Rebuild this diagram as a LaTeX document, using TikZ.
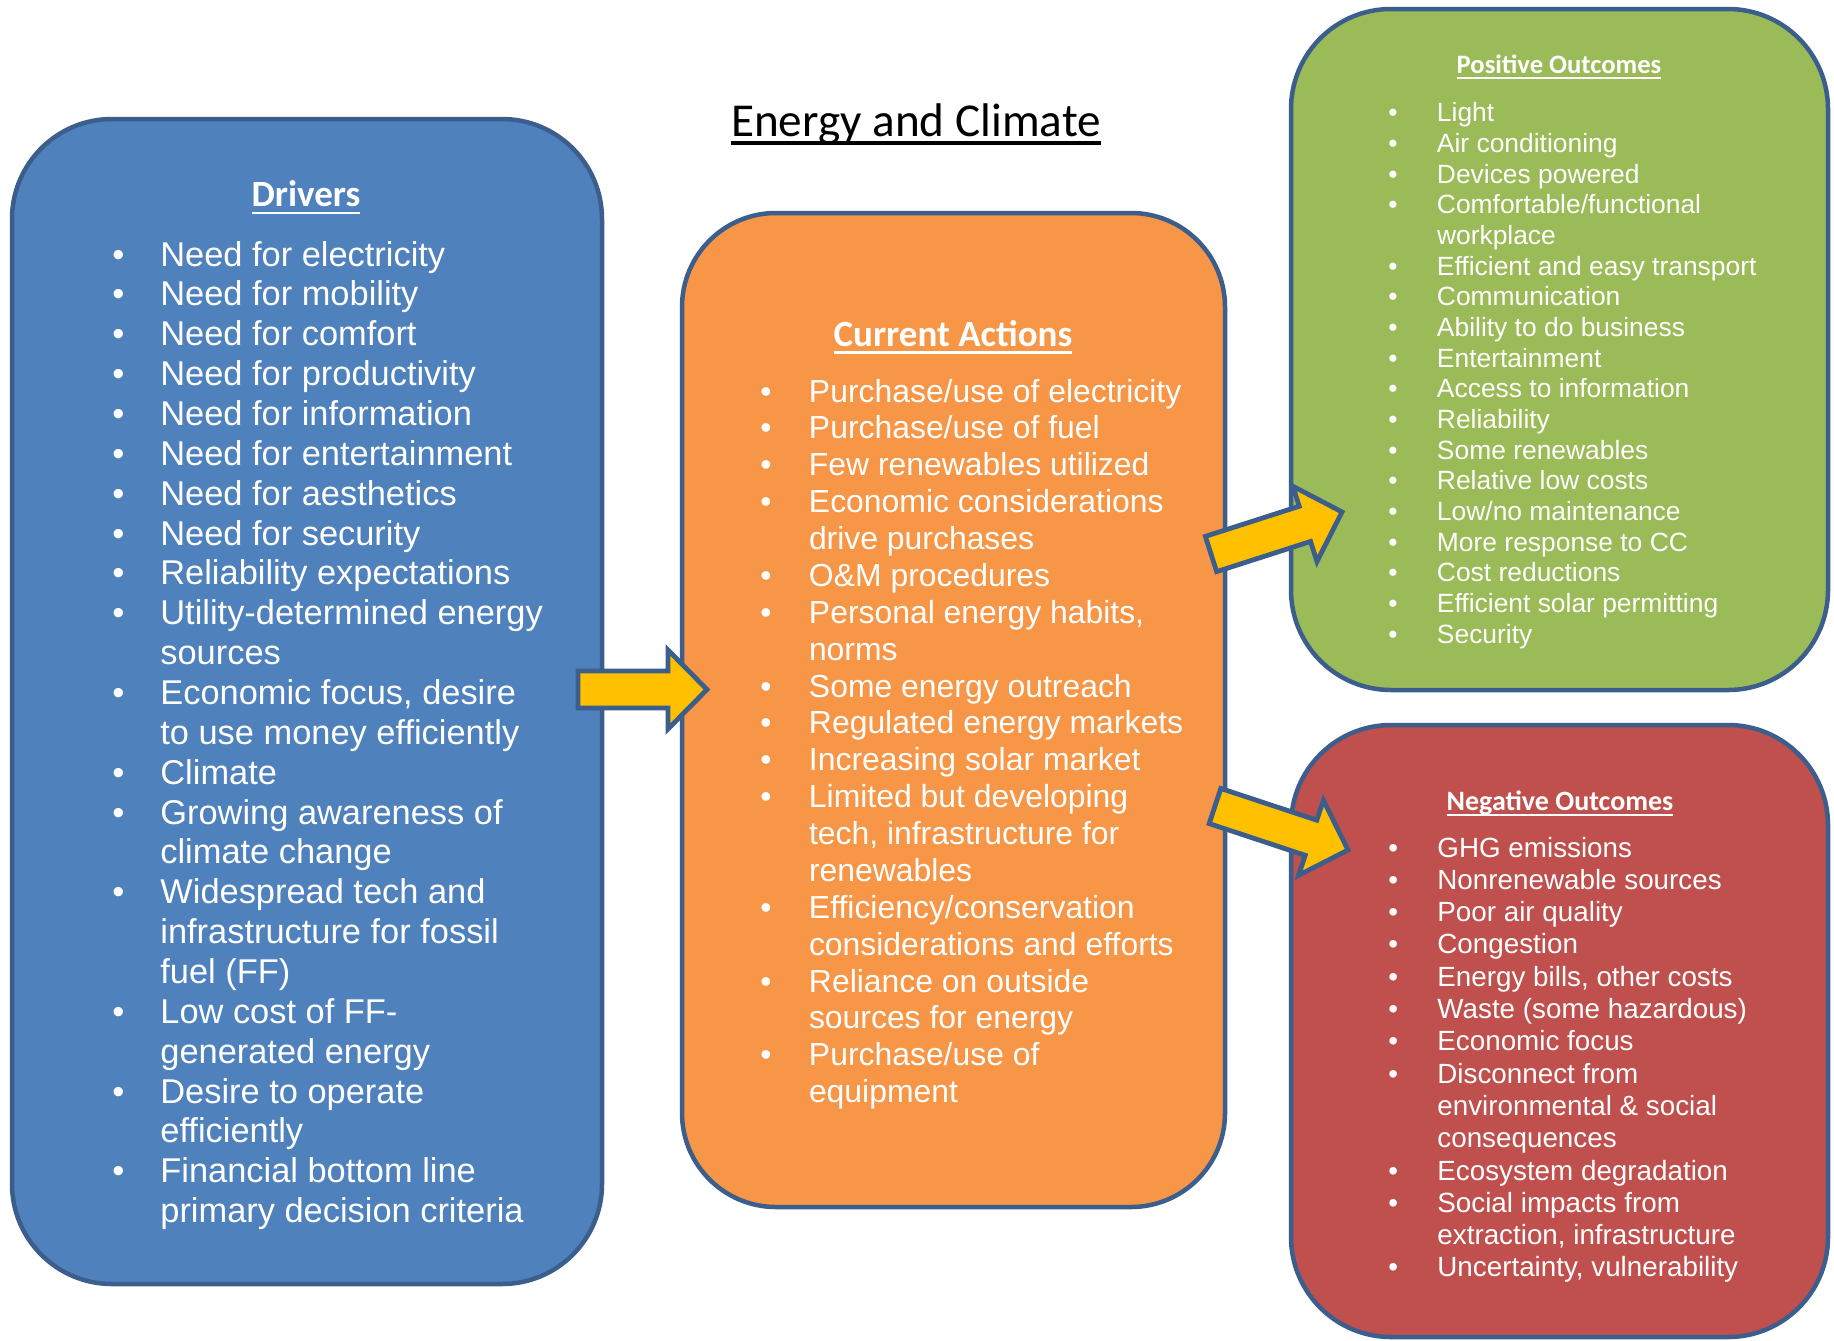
\documentclass[tikz,border=0pt]{standalone}
\usepackage{fontspec}
\setmainfont{Liberation Sans}
\newfontfamily\hdfont{Carlito}
\definecolor{edgeblue}{HTML}{3B5E8C}
\definecolor{bluefill}{HTML}{4F81BD}
\definecolor{orangefill}{HTML}{F79646}
\definecolor{greenfill}{HTML}{9BBB59}
\definecolor{redfill}{HTML}{C0504D}
\definecolor{arrowfill}{HTML}{FFC000}
\newlength\bw
\newcommand\bi{\makebox[\bw][l]{•}}
\newcommand\ci{\hspace*{\bw}}
\newcommand\ulx[3]{\setbox0\hbox{#3}\rlap{\rule[#1]{\wd0}{#2}}\box0}
\newcommand\blockarrow[1]{%
  \path[barrow] (0,-18.5) -- (#1-39,-18.5) -- (#1-39,-39.5) -- (#1,0)
    -- (#1-39,39.5) -- (#1-39,18.5) -- (0,18.5) -- cycle;}
\begin{document}
\begin{tikzpicture}[x=0.5pt,y=-0.5pt,
  box/.style={draw=edgeblue, line width=2.25pt, rounded corners=50pt, rectangle, inner sep=0pt},
  head/.style={text=white, inner sep=0pt, anchor=base},
  itemlist/.style={text=white, inner sep=0pt, anchor=base west},
  barrow/.style={fill=arrowfill, draw=edgeblue, line width=2.4pt, line join=miter}]
\useasboundingbox (0,0) rectangle (1834,1340);
\fill[white] (0,0) rectangle (1834,1340);

% boxes
\node[box, fill=bluefill, minimum width=295pt, minimum height=582.5pt] (drivers) at (307,701.5) {};
\node[box, fill=orangefill, minimum width=271.5pt, minimum height=497pt, rounded corners=47pt] (actions) at (953.5,710) {};
\node[box, fill=greenfill, minimum width=268.5pt, minimum height=340.5pt] (positive) at (1559.5,349.5) {};
\node[box, fill=redfill, minimum width=268.5pt, minimum height=306pt] (negative) at (1559.5,1031) {};

% title
\node[inner sep=0pt, anchor=base] (title) at (916,136.7)
  {\hdfont\fontsize{23.6}{28}\selectfont\ulx{-0.176em}{0.085em}{Energy and Climate}};

% headings
\node[head] (drvhead) at (306,206.7)
  {\hdfont\bfseries\fontsize{18.5}{22}\selectfont\ulx{-0.205em}{0.07em}{Drivers}};
\node[head] (acthead) at (953,346)
  {\hdfont\bfseries\fontsize{18.5}{22}\selectfont\ulx{-0.205em}{0.07em}{Current Actions}};
\node[head] (poshead) at (1559,73)
  {\hdfont\bfseries\fontsize{13.3}{16}\selectfont\ulx{-0.22em}{0.075em}{Positive Outcomes}};
\node[head] (neghead) at (1560,810)
  {\hdfont\bfseries\fontsize{14}{17}\selectfont\ulx{-0.2em}{0.075em}{Negative Outcomes}};

% lists
\node[itemlist] (drvlist) at (112,266) {\parbox[t]{400pt}{\fontsize{17.2}{19.93}\selectfont\setlength\bw{24pt}\raggedright
\bi Need for electricity\\
\bi Need for mobility\\
\bi Need for comfort\\
\bi Need for productivity\\
\bi Need for information\\
\bi Need for entertainment\\
\bi Need for aesthetics\\
\bi Need for security\\
\bi Reliability expectations\\
\bi Utility-determined energy\\
\ci sources\\
\bi Economic focus, desire\\
\ci to use money efficiently\\
\bi Climate\\
\bi Growing awareness of\\
\ci climate change\\
\bi Widespread tech and\\
\ci infrastructure for fossil\\
\ci fuel (FF)\\
\bi Low cost of FF-\\
\ci generated energy\\
\bi Desire to operate\\
\ci efficiently\\
\bi Financial bottom line\\
\ci primary decision criteria}};

\node[itemlist] (actlist) at (760,402) {\parbox[t]{400pt}{\fontsize{15.95}{18.44}\selectfont\setlength\bw{24.3pt}\raggedright
\bi Purchase/use of electricity\\
\bi Purchase/use of fuel\\
\bi Few renewables utilized\\
\bi Economic considerations\\
\ci drive purchases\\
\bi O\&M procedures\\
\bi Personal energy habits,\\
\ci norms\\
\bi Some energy outreach\\
\bi Regulated energy markets\\
\bi Increasing solar market\\
\bi Limited but developing\\
\ci tech, infrastructure for\\
\ci renewables\\
\bi Efficiency/conservation\\
\ci considerations and efforts\\
\bi Reliance on outside\\
\ci sources for energy\\
\bi Purchase/use of\\
\ci equipment}};

\node[itemlist] (poslist) at (1388,121.7) {\parbox[t]{400pt}{\fontsize{13.2}{15.34}\selectfont\setlength\bw{24.3pt}\raggedright
\bi Light\\
\bi Air conditioning\\
\bi Devices powered\\
\bi Comfortable/functional\\
\ci workplace\\
\bi Efficient and easy transport\\
\bi Communication\\
\bi Ability to do business\\
\bi Entertainment\\
\bi Access to information\\
\bi Reliability\\
\bi Some renewables\\
\bi Relative low costs\\
\bi Low/no maintenance\\
\bi More response to CC\\
\bi Cost reductions\\
\bi Efficient solar permitting\\
\bi Security}};

\node[itemlist] (neglist) at (1388,857) {\parbox[t]{400pt}{\fontsize{13.9}{16.15}\selectfont\setlength\bw{24.5pt}\raggedright
\bi GHG emissions\\
\bi Nonrenewable sources\\
\bi Poor air quality\\
\bi Congestion\\
\bi Energy bills, other costs\\
\bi Waste (some hazardous)\\
\bi Economic focus\\
\bi Disconnect from\\
\ci environmental \& social\\
\ci consequences\\
\bi Ecosystem degradation\\
\bi Social impacts from\\
\ci extraction, infrastructure\\
\bi Uncertainty, vulnerability}};

% block arrows
\coordinate (a1s) at (578,689.5);
\coordinate (a2s) at (1211,554);
\coordinate (a3s) at (1215,806);
\begin{scope}[shift={(a1s)}]
  \blockarrow{129}
\end{scope}
\begin{scope}[shift={(a2s)}, rotate=17.8]
  \blockarrow{137.6}
\end{scope}
\begin{scope}[shift={(a3s)}, rotate=-18.3]
  \blockarrow{140.1}
\end{scope}
\end{tikzpicture}
\end{document}
